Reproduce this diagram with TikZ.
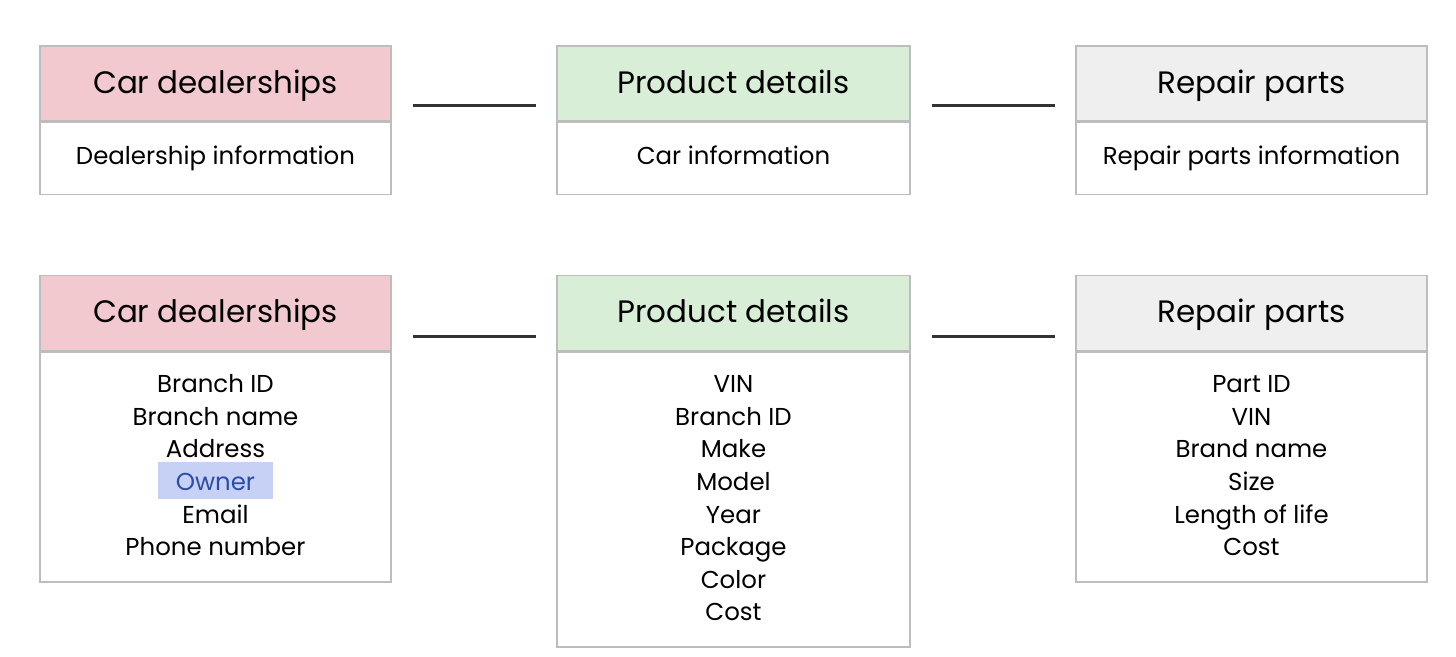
\documentclass[tikz,border=0pt]{standalone}
\usepackage{fontspec}
\setmainfont{Poppins}
\definecolor{dealerpink}{HTML}{F2C9CE}
\definecolor{productgreen}{HTML}{D9EED6}
\definecolor{partsgray}{HTML}{EFEFEF}
\definecolor{boxline}{HTML}{BDBDBD}
\definecolor{ownerblue}{HTML}{2A4DA8}
\definecolor{ownerfill}{HTML}{C6D1F5}
\begin{document}
\begin{tikzpicture}
[x = 0.01cm, y = 0.01cm,
 head/.style = {draw = boxline, line width = 0.45pt, minimum height = 0.75cm, inner sep = 0pt, text height = 1.45ex, text depth = 0.45ex, font = \fontsize{8.8}{11}\selectfont},
 body/.style = {draw = boxline, line width = 0.45pt, fill = white, inner sep = 0pt},
 info/.style = {font = \fontsize{6.95}{9}\selectfont, text height = 1.45ex, text depth = 0.45ex, yshift = 0.04cm},
 item/.style = {font = \fontsize{6.95}{9}\selectfont, inner sep = 0pt, text height = 1.45ex, text depth = 0.45ex},
 owner/.style = {item, text = ownerblue, fill = ownerfill, minimum width = 1.14cm, minimum height = 0.33cm},
 link/.style = {draw = black!80, line width = 0.9pt}
 ]
\useasboundingbox (0,0) rectangle (1456,657);
% top row
\node [head, fill = dealerpink, minimum width = 3.51cm] (dealerHead) at (215.5,573.5) {Car dealerships};
\node [body, minimum width = 3.51cm, minimum height = 0.72cm, anchor = north] (dealerBody) at (dealerHead.south) {};
\node [info] at (dealerBody) {Dealership information};
\node [head, fill = productgreen, minimum width = 3.53cm] (productHead) at (733.5,573.5) {Product details};
\node [body, minimum width = 3.53cm, minimum height = 0.72cm, anchor = north] (productBody) at (productHead.south) {};
\node [info] at (productBody) {Car information};
\node [head, fill = partsgray, minimum width = 3.51cm] (partsHead) at (1251.5,573.5) {Repair parts};
\node [body, minimum width = 3.51cm, minimum height = 0.72cm, anchor = north] (partsBody) at (partsHead.south) {};
\node [info] at (partsBody) {Repair parts information};
\draw [link] ([xshift = 0.21cm, yshift = 0.16cm]dealerHead.south east) -- ([xshift = -0.20cm, yshift = 0.16cm]productHead.south west);
\draw [link] ([xshift = 0.21cm, yshift = 0.16cm]productHead.south east) -- ([xshift = -0.20cm, yshift = 0.16cm]partsHead.south west);
% bottom row
\node [head, fill = dealerpink, minimum width = 3.51cm] (dealerHeadB) at (215.5,344) {Car dealerships};
\node [body, minimum width = 3.51cm, minimum height = 2.30cm, anchor = north] (dealerBodyB) at (dealerHeadB.south) {};
\node [head, fill = productgreen, minimum width = 3.53cm] (productHeadB) at (733.5,344) {Product details};
\node [body, minimum width = 3.53cm, minimum height = 2.95cm, anchor = north] (productBodyB) at (productHeadB.south) {};
\node [head, fill = partsgray, minimum width = 3.51cm] (partsHeadB) at (1251.5,344) {Repair parts};
\node [body, minimum width = 3.51cm, minimum height = 2.30cm, anchor = north] (partsBodyB) at (partsHeadB.south) {};
\draw [link] ([xshift = 0.21cm, yshift = 0.15cm]dealerHeadB.south east) -- ([xshift = -0.20cm, yshift = 0.15cm]productHeadB.south west);
\draw [link] ([xshift = 0.21cm, yshift = 0.15cm]productHeadB.south east) -- ([xshift = -0.20cm, yshift = 0.15cm]partsHeadB.south west);
\foreach \t/\s [count = \i] in {Branch ID/item, Branch name/item, Address/item, Owner/owner, Email/item, Phone number/item}
  \node [\s] (dealerItem\i) at (215.5,274-32.6*\i+32.6) {\t};
\foreach \t [count = \i] in {VIN, Branch ID, Make, Model, Year, Package, Color, Cost}
  \node [item] (productItem\i) at (733.5,274-32.6*\i+32.6) {\t};
\foreach \t [count = \i] in {Part ID, VIN, Brand name, Size, Length of life, Cost}
  \node [item] (partsItem\i) at (1251.5,274-32.6*\i+32.6) {\t};
\end{tikzpicture}
\end{document}
